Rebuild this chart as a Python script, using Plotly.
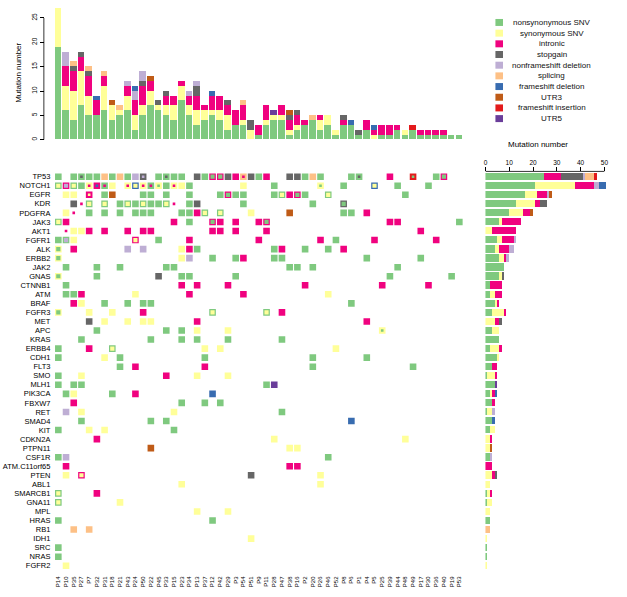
import plotly.graph_objects as go

W, H = 627, 597

patients = ["P14","P10","P35","P27","P7","P32","P31","P18","P21","P43","P24","P50","P22","P45",
            "P33","P15","P23","P34","P13","P37","P12","P42","P29","P3","P54","P51","P9","P11",
            "P28","P47","P38","P16","P2","P20","P26","P46","P52","P8","P6","P1","P4","P5","P25",
            "P39","P44","P48","P49","P17","P30","P36","P40","P19","P53"]

genes = ["TP53","NOTCH1","EGFR","KDR","PDGFRA","JAK3","AKT1","FGFR1","ALK","ERBB2","JAK2","GNAS",
         "CTNNB1","ATM","BRAF","FGFR3","MET","APC","KRAS","ERBB4","CDH1","FLT3","SMO","MLH1",
         "PIK3CA","FBXW7","RET","SMAD4","KIT","CDKN2A","PTPN11","CSF1R","ATM.C11orf65","PTEN",
         "ABL1","SMARCB1","GNA11","MPL","HRAS","RB1","IDH1","SRC","NRAS","FGFR2"]

mut_types = ["nonsynonymous SNV","synonymous SNV","intronic","stopgain","nonframeshift deletion",
             "splicing","frameshift deletion","UTR3","frameshift insertion","UTR5"]
type_codes = ["N","S","I","G","D","P","B","U","R","V"]
type_colors = ["#7FC97F","#FFFF99","#F0027F","#666666","#BEAED4",
               "#FDC086","#386CB0","#BF5B17","#E31A1C","#6A3D9A"]

# ---- top bar chart: mutation number per patient, by type ----
top_nonsyn = [19,6,4,7,5,5,6,4,5,6,2,5,7,6,5,4,8,5,3,4,5,4,2,3,3,0,1,3,4,4,1,2,3,4,2,3,1,3,3,1,2,0,1,1,2,1,2,1,1,1,1,1,1]
top_syn    = [8,5,6,7,4,0,5,3,1,3,3,2,3,1,2,3,3,2,3,2,1,2,3,0,1,2,0,1,1,1,1,1,0,0,2,2,1,0,0,0,0,1,0,0,0,1,0,0,0,0,0,0,0]
top_intr   = [0,4,4,3,4,3,2,0,0,2,3,4,2,0,2,2,1,2,3,1,3,3,2,3,3,0,2,3,0,2,2,2,1,0,1,0,0,1,0,0,2,1,2,2,1,0,0,1,1,1,1,0,0]
top_stop   = [0,0,1,1,1,0,0,0,0,0,0,1,0,1,1,0,0,0,2,0,0,0,1,0,0,2,0,0,0,0,1,1,0,0,0,0,0,1,0,1,0,0,0,0,0,0,0,0,0,0,0,0,0]
top_nfdel  = [0,3,0,0,0,0,0,0,0,1,2,2,0,0,0,0,0,1,1,0,0,0,0,0,0,0,0,0,0,0,0,0,0,0,0,0,0,0,0,0,0,0,0,0,0,0,0,0,0,0,0,0,0]
top_splic  = [0,0,1,0,1,0,1,0,1,0,0,0,0,0,0,0,0,0,0,0,0,0,0,0,1,0,0,0,0,0,0,0,0,1,0,0,0,0,0,0,0,0,0,0,0,0,0,0,0,0,0,0,0]
top_fsdel  = [0,0,0,0,0,1,0,0,0,0,1,0,0,0,0,0,0,0,0,0,1,0,0,0,0,0,0,0,0,0,0,0,0,0,0,0,0,0,1,0,0,1,0,0,0,0,0,0,0,0,0,0,0]
top_utr3   = [0,0,0,0,0,0,0,1,0,0,0,0,1,0,0,0,0,0,0,0,0,0,0,0,0,0,0,0,0,0,1,0,0,0,0,0,0,0,0,0,0,0,0,0,0,0,0,0,0,0,0,0,0]
top_fsins  = [0,0,0,0,0,0,0,0,0,0,0,0,0,0,0,0,0,0,0,0,0,0,0,0,0,0,0,0,0,0,0,0,0,0,0,0,0,0,0,0,0,0,0,0,0,0,1,0,0,0,0,0,0]
top_utr5   = [0,0,0,0,0,0,0,0,0,0,0,0,0,0,0,0,0,0,0,0,0,0,0,0,0,0,0,0,1,0,0,0,0,0,0,0,0,0,0,0,0,0,0,0,0,0,0,0,0,0,0,0,0]

# ---- right bar chart: mutation number per gene, by type ----
gene_nonsyn = [25,21,17,13,10,6,0,5,4,6,8,6,2,2,4,3,0,3,6,2,5,3,1,4,2,3,1,3,2,0,0,2,0,0,0,1,1,0,2,0,0,1,1,0]
gene_syn    = [0,17,5,8,6,1,3,2,2,2,0,1,0,2,1,5,4,3,0,4,1,0,3,0,1,0,2,0,2,2,2,0,0,3,2,1,2,2,0,0,1,0,0,1]
gene_intr   = [7,8,4,2,3,8,10,5,4,1,0,0,5,3,1,1,2,0,0,1,0,2,1,0,1,1,0,0,0,1,0,0,3,1,0,1,0,0,0,0,0,0,0,0]
gene_stop   = [9,0,0,3,0,0,0,0,0,0,0,1,0,0,0,0,1,0,0,0,0,0,0,0,0,0,0,0,0,0,0,0,0,1,0,0,0,0,0,0,0,0,0,0]
gene_nfdel  = [1,2,1,0,0,0,0,1,2,1,0,0,0,0,0,0,0,0,0,0,0,0,0,0,0,0,1,0,0,0,0,1,0,0,0,0,0,0,0,0,0,0,0,0]
gene_splic  = [4,0,0,0,0,0,0,0,0,0,0,0,0,0,0,0,0,0,0,0,0,0,0,0,0,0,0,0,0,0,0,0,0,0,0,0,0,0,0,2,0,0,0,0]
gene_fsdel  = [0,3,0,0,0,0,0,0,0,0,0,0,0,0,0,0,0,0,0,0,0,0,0,0,1,0,0,1,0,0,0,0,0,0,0,0,0,0,0,0,0,0,0,0]
gene_utr3   = [0,0,1,0,1,0,0,0,0,0,0,0,0,0,0,0,0,0,0,0,0,0,0,0,0,0,0,0,0,0,1,0,0,0,0,0,0,0,0,0,0,0,0,0]
gene_fsins  = [1,0,0,0,0,0,0,0,0,0,0,0,0,0,0,0,0,0,0,0,0,0,0,0,0,0,0,0,0,0,0,0,0,0,0,0,0,0,0,0,0,0,0,0]
gene_utr5   = [0,0,0,0,0,0,0,0,0,0,0,0,0,0,0,0,0,0,0,0,0,0,0,1,0,0,0,0,0,0,0,0,0,0,0,0,0,0,0,0,0,0,0,0]

# ---- oncoprint cells: "<patient column><types outer->inner>"; uppercase inner = medium, lowercase = small, '.' = none
gene_cells = [
    "1N 3N 4Ng 5N 6N 7P 8N 9P 10N 11D 12Gd 14N 15Ng 16N 17N 19G 20N 21IN 22IN 23G 24I 25Pi 26G 27N 28I 31G 32G 33N 34P 35N 39N 40Ng 44I 47Rn 50N 51IN",
    "1NS 2ID 3NS 4N 5Si 6Ib 7Ni 8S 10Si 11BS 12Si 13Ni 14Sn 15N 16Si 17S 18N 25S 29N 35Sn 38N 42BS 45N 49N",
    "2S 3S 5Is 7N 8U 12N 13N 15N 18N 22N 23IN 24N 25N 29N 30NS 31I 32IN 33N 36NS 46N",
    "3G 4.i 5NS 7NS 9N 10NS 11N 12NS 13N 14N 15NS 16.i 18N 19G 25N 34N 38GN",
    "2S 3.i 5N 7N 9N 11N 12N 13N 17N 18N 19I 20NS 22NS 26S 31U 38N 39N 41I",
    "1NS 2I 16I 18N 21IN 22I 24I 27I 28IN 44I 45I 53N",
    "2.i 3S 4S 5I 7I 10I 12I 13I 21I 22I 24I 28I 48I",
    "1N 2ND 3S 11IS 14N 18I 27I 35I 37N 42I 50I",
    "1SN 3I 10D 12D 17S 18I 19N 29N 30I 33N 36N 38I",
    "1SN 17S 18D 21N 24N 25I 29N 30N 41N 48N",
    "2N 6N 9N 15N 16N 31N 32N 34N 45N",
    "1SN 6N 14G 17N 18N 24N 44N 52N",
    "2N 17I 19I 23I 33I 43I 49I",
    "2N 3N 4I 11S 18I 25I 36S",
    "3I 4S 7N 10N 12N 13N 39N",
    "1SN 5S 8S 12I 21NS 28NS 30I",
    "5G 7S 10S 12S 13S 19I 41I",
    "6N 15N 17N 19S 23S 43Sn",
    "4N 13N 17N 19N 23N 30N",
    "1N 5I 8NS 20S 22S 37S",
    "1N 7S 9N 20N 34N 41N",
    "9N 11I 20I 34N 47N",
    "1N 4S 15I 19S 23S",
    "1N 3N 4N 28N 29V",
    "2N 3S 8N 11I 21B",
    "3I 17N 20N 22N",
    "2D 4S 16S 30N",
    "4N 13N 15N 39B",
    "1N 5S 7S 16N",
    "6I 29S 46S",
    "13U 31S 32S",
    "1N 2D 36N",
    "2I 31I 32I",
    "2S 4IS 26G 35S",
    "17S 35S",
    "1NS 6I",
    "1NS 9S",
    "19S 23S",
    "1N 21N",
    "3P 5P",
    "26S",
    "1N",
    "1N",
    "2S",
]

FONT = "Liberation Sans, Arial, Helvetica, sans-serif"

def fx(px):
    return px / W

def fy(px):
    return 1 - px / H

top_series = [top_nonsyn, top_syn, top_intr, top_stop, top_nfdel, top_splic,
              top_fsdel, top_utr3, top_fsins, top_utr5]
gene_series = [gene_nonsyn, gene_syn, gene_intr, gene_stop, gene_nfdel, gene_splic,
               gene_fsdel, gene_utr3, gene_fsins, gene_utr5]

fig = go.Figure()
cols = list(range(len(patients)))
rows = list(range(len(genes)))

# top stacked bars
for name, vals, col in zip(mut_types, top_series, type_colors):
    fig.add_trace(go.Bar(x=cols, y=vals, name=name, marker=dict(color=col, line=dict(width=0)),
                         width=0.86, xaxis="x", yaxis="y", showlegend=False, hoverinfo="skip"))

# right stacked horizontal bars
for name, vals, col in zip(mut_types, gene_series, type_colors):
    fig.add_trace(go.Bar(x=vals, y=rows, orientation="h", name=name,
                         marker=dict(color=col, line=dict(width=0)),
                         width=0.8, xaxis="x3", yaxis="y2", showlegend=False, hoverinfo="skip"))

# oncoprint cells
SIZES = [6.6, 4.2, 2.6]
groups = {}
for gi, spec in enumerate(gene_cells):
    for tok in spec.split():
        k = 0
        while tok[k].isdigit():
            k += 1
        ci = int(tok[:k]) - 1
        for lvl, ch in enumerate(tok[k:]):
            if ch == ".":
                continue
            if lvl == 0:
                rank = 0
            elif ch.isupper():
                rank = 1
            else:
                rank = 2
            key = (rank, ch.upper())
            groups.setdefault(key, ([], []))
            groups[key][0].append(ci)
            groups[key][1].append(gi)

for key in sorted(groups, key=lambda k: (k[0], type_codes.index(k[1]))):
    rank, code = key
    xs, ys = groups[key]
    fig.add_trace(go.Scatter(x=xs, y=ys, mode="markers", xaxis="x", yaxis="y2",
                             marker=dict(symbol="square", size=SIZES[rank],
                                         color=type_colors[type_codes.index(code)],
                                         line=dict(width=0)),
                             showlegend=False, hoverinfo="skip"))

# geometry (pixels)
col0, colN = 56.5, 458.8
step = (colN - col0) / (len(patients) - 1)
x_left, x_right = col0 - step / 2, colN + step / 2
row0, rowN = 177.0, 566.7
rstep = (rowN - row0) / (len(genes) - 1)
m_top, m_bot = row0 - rstep / 2, rowN + rstep / 2
bar_base, unit = 140.0, 4.88
ymax_top = 28
r0, runit = 485.0, 2.386
xmax_right = 52

shapes = []
annotations = []

# top y-axis line (0..25)
shapes.append(dict(type="line", xref="paper", yref="y", x0=fx(42), x1=fx(42), y0=0, y1=25,
                   line=dict(color="black", width=0.8)))
# right x-axis line (0..50)
shapes.append(dict(type="line", xref="x3", yref="paper", x0=0, x1=50, y0=fy(171.7), y1=fy(171.7),
                   line=dict(color="black", width=0.8)))

annotations.append(dict(text="Mutation number", x=fx(17), y=fy(73), xref="paper", yref="paper",
                        textangle=-90, showarrow=False, font=dict(size=8, color="black", family=FONT),
                        xanchor="center", yanchor="middle"))
annotations.append(dict(text="Mutation number", x=fx(538), y=fy(145), xref="paper", yref="paper",
                        showarrow=False, font=dict(size=8, color="black", family=FONT),
                        xanchor="center", yanchor="middle"))

# legend
for i, (name, col) in enumerate(zip(mut_types, type_colors)):
    cy = 22.5 + 10.7 * i
    shapes.append(dict(type="rect", xref="paper", yref="paper", x0=fx(495), x1=fx(502.6),
                       y0=fy(cy - 3.5), y1=fy(cy + 3.5), fillcolor=col, line=dict(width=0)))
    annotations.append(dict(text=name, x=fx(551.5), y=fy(cy), xref="paper", yref="paper",
                            showarrow=False, xanchor="center", yanchor="middle",
                            font=dict(size=8, color="#111", family=FONT)))

fig.update_layout(
    width=W, height=H,
    margin=dict(l=0, r=0, t=0, b=0),
    paper_bgcolor="white", plot_bgcolor="rgba(0,0,0,0)",
    barmode="stack", bargap=0,
    font=dict(family=FONT, color="black"),
    shapes=shapes, annotations=annotations,
    xaxis=dict(domain=[fx(x_left), fx(x_right)], range=[-0.5, len(patients) - 0.5],
               anchor="y2", tickmode="array", tickvals=cols, ticktext=patients,
               tickangle=-90, tickfont=dict(size=6, color="black"), ticks="",
               ticklabelstandoff=4, showline=False, showgrid=False, zeroline=False),
    yaxis=dict(domain=[fy(bar_base), fy(bar_base - ymax_top * unit)], range=[0, ymax_top],
               anchor="free", position=fx(42), tickmode="array", tickvals=[0, 5, 10, 15, 20, 25],
               ticks="outside", ticklen=4, tickwidth=0.8, tickcolor="black", tickangle=-90,
               tickfont=dict(size=6.5, color="black"), showline=False, showgrid=False, zeroline=False),
    yaxis2=dict(domain=[fy(m_bot), fy(m_top)], range=[len(genes) - 0.5, -0.5], anchor="x",
                tickmode="array", tickvals=rows, ticktext=genes, ticks="",
                tickfont=dict(size=7.5, color="black"), ticklabelstandoff=3,
                showline=False, showgrid=False, zeroline=False),
    xaxis3=dict(domain=[fx(r0), fx(r0 + xmax_right * runit)], range=[0, xmax_right],
                anchor="y2", side="top", tickmode="array", tickvals=[0, 10, 20, 30, 40, 50],
                ticks="outside", ticklen=4, tickwidth=0.8, tickcolor="black",
                tickfont=dict(size=6.5, color="black"), showline=False, showgrid=False, zeroline=False),
)

fig.write_html("out.html", config={"displayModeBar": False})
